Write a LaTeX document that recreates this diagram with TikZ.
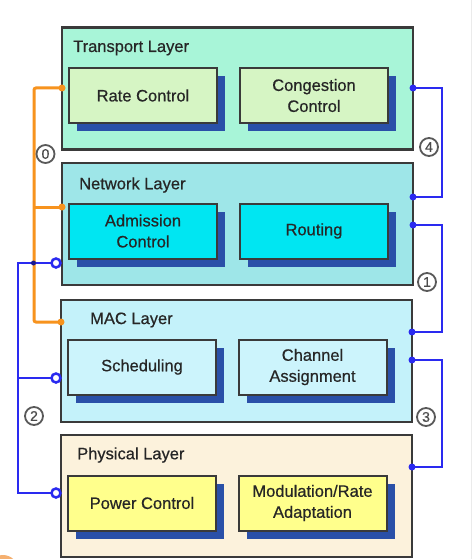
\documentclass[tikz,border=0pt]{standalone}
\usepackage{fontspec}
\setmainfont[FakeBold=0.6]{Liberation Sans}
\usetikzlibrary{calc,shadows}
\definecolor{transbg}{HTML}{A8F5D8}
\definecolor{transin}{HTML}{D6F5C4}
\definecolor{netbg}{HTML}{9EE6E8}
\definecolor{netin}{HTML}{00E6F2}
\definecolor{macbg}{HTML}{C4F2FA}
\definecolor{macin}{HTML}{CCF4FC}
\definecolor{phybg}{HTML}{FCF2DC}
\definecolor{phyin}{HTML}{FFFF8C}
\definecolor{shadowc}{HTML}{2A50A8}
\definecolor{bordc}{HTML}{3A3A3A}
\definecolor{orangel}{HTML}{F7931E}
\definecolor{bluel}{HTML}{2A2AF0}
\definecolor{blobc}{HTML}{F5B070}
\definecolor{edgec}{HTML}{EBEBEB}
\begin{document}
\begin{tikzpicture}[x=1pt,y=-1pt,
  layerbox/.style={draw=bordc, line width=2.2pt, minimum width=351pt, minimum height=122pt, inner sep=0pt, outer sep=0pt},
  funcbox/.style={draw=bordc, line width=2pt, minimum width=148pt, minimum height=55pt, inner sep=0pt, outer sep=0pt, align=center,
    font=\fontsize{16.5}{21}\selectfont, text=black!85,
    drop shadow={shadow xshift=8pt, shadow yshift=-8pt, fill=shadowc, opacity=1}},
  layerlabel/.style={anchor=west, inner sep=0pt, font=\fontsize{16.5}{20}\selectfont, text=black!85},
  numlabel/.style={circle, draw=black!65, line width=1.8pt, fill=white, minimum size=18pt, inner sep=0pt, font=\fontsize{14}{14}\selectfont, text=black!70},
  orangeline/.style={draw=orangel, line width=3pt, rounded corners=2pt},
  blueline/.style={draw=bluel, line width=2.5pt},
  odot/.style={circle, fill=orangel, minimum size=7pt, inner sep=0pt},
  bdot/.style={circle, fill=bluel, minimum size=7pt, inner sep=0pt},
  bopen/.style={circle, draw=bluel, fill=white, line width=2.5pt, minimum size=9pt, inner sep=0pt}
]
\useasboundingbox (0,0) rectangle (474,559);
\fill[white] (0,0) rectangle (474,559);
\draw[edgec, line width=1.5pt] (471.5,0) -- (471.5,559);
\begin{scope}
  \clip (0,0) rectangle (474,559);
  \fill[blobc] (3,570) circle (15);
\end{scope}

% layers
\node[layerbox, fill=transbg] (T) at (237.5,88.5) {};
\node[layerbox, fill=netbg]   (N) at (237.5,224) {};
\node[layerbox, fill=macbg]   (M) at (236.5,361) {};
\node[layerbox, fill=phybg]   (P) at (236.5,496) {};

\node[layerlabel] (Tl) at (73,48)  {Transport Layer};
\node[layerlabel] (Nl) at (79,185) {Network Layer};
\node[layerlabel] (Ml) at (90,320) {MAC Layer};
\node[layerlabel] (Pl) at (77,455) {Physical Layer};

% functional blocks
\node[funcbox, fill=transin] (RC) at (143,95.5) {Rate Control};
\node[funcbox, fill=transin] (CC) at (314,95.5) {Congestion\\Control};
\node[funcbox, fill=netin]   (AC) at (143,231)  {Admission\\Control};
\node[funcbox, fill=netin]   (RT) at (314,231)  {Routing};
\node[funcbox, fill=macin]   (SC) at (142,367)  {Scheduling};
\node[funcbox, fill=macin]   (CA) at (312.5,367) {Channel\\Assignment};
\node[funcbox, fill=phyin]   (PC) at (142,503)  {Power Control};
\node[funcbox, fill=phyin]   (MR) at (312.5,503) {Modulation/Rate\\Adaptation};

% connection points
\coordinate (oT) at (T.west |- 0,88);
\coordinate (oN) at (N.west |- 0,207);
\coordinate (oM) at (M.west |- 0,322);
\coordinate (oX) at (34,88);
\coordinate (oY) at (34,207);
\coordinate (oZ) at (34,322);

\coordinate (bN) at ($(N.west |- 0,263)+(-6,0)$);
\coordinate (bM) at ($(M.west |- 0,378)+(-5,0)$);
\coordinate (bP) at ($(P.west |- 0,493)+(-5,0)$);
\coordinate (bA) at (18,263);
\coordinate (bB) at (18,378);
\coordinate (bC) at (18,493);
\coordinate (bX) at (33.5,263);

\coordinate (r4a) at (T.east |- 0,88);
\coordinate (r4b) at (N.east |- 0,197);
\coordinate (r1a) at (N.east |- 0,225);
\coordinate (r1b) at (M.east |- 0,332);
\coordinate (r3a) at (M.east |- 0,360);
\coordinate (r3b) at (P.east |- 0,467);

% blue left (cross-layer 2)
\draw[blueline] (bN) -- (bA) -- (bC) -- (bP);
\draw[blueline] (bB) -- (bM);

% orange (cross-layer 0)
\draw[orangeline] (oT) -- (oX) -- (oZ) -- (oM);
\draw[orangeline] (oY) -- (oN);
\node[odot] (doT) at (oT) {};
\node[odot] (doN) at (oN) {};
\node[odot] (doM) at (oM) {};

\node[circle, fill=bluel!60!black, minimum size=5pt, inner sep=0pt] (xdot) at (bX) {};
\node[bopen] (cN) at (bN) {};
\node[bopen] (cM) at (bM) {};
\node[bopen] (cP) at (bP) {};

% blue right
\draw[blueline] (r4a) -- (442,88) -- (442,197) -- (r4b);
\draw[blueline] (r1a) -- (442,225) -- (442,332) -- (r1b);
\draw[blueline] (r3a) -- (442,360) -- (442,467) -- (r3b);
\foreach \p in {r4a,r4b,r1a,r1b,r3a,r3b} \node[bdot] at (\p) {};

% numbers
\node[numlabel] (n0) at (45.5,154) {0};
\node[numlabel] (n2) at (34,416) {2};
\node[numlabel] (n4) at (429,147) {4};
\node[numlabel] (n1) at (427,282) {1};
\node[numlabel] (n3) at (426,417) {3};
\end{tikzpicture}
\end{document}
